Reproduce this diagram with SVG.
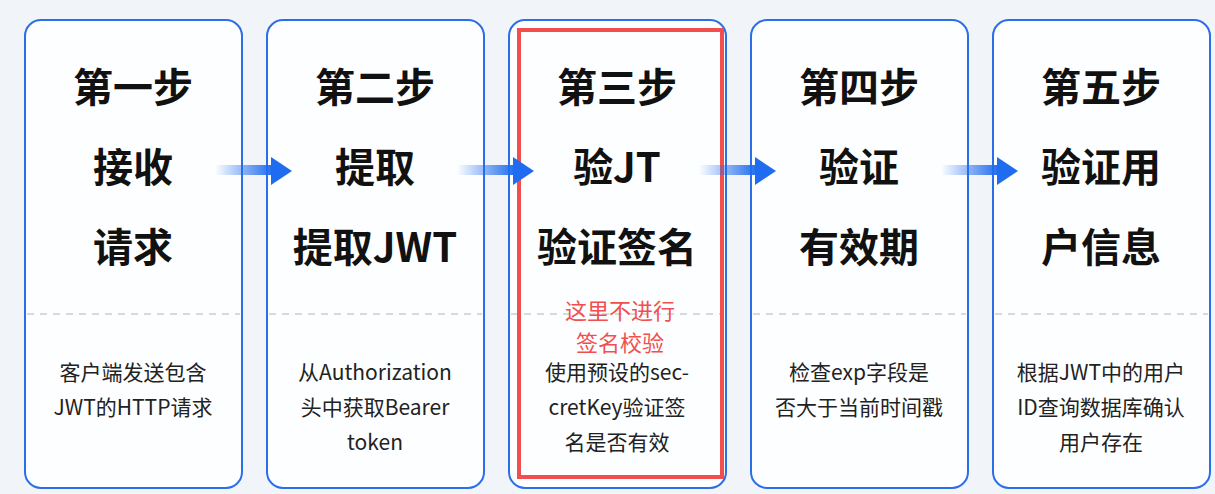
<svg xmlns="http://www.w3.org/2000/svg" width="1215" height="494" viewBox="0 0 1215 494">
<style>
.box{fill:#fdfeff;stroke:#2a6ee8;stroke-width:2}
.dash{stroke:#c9ced6;stroke-width:1.5;stroke-dasharray:7 6}
.t{font-family:"Noto Sans CJK SC","Liberation Sans",sans-serif;font-weight:700;font-size:40px;fill:#111;text-anchor:middle}
.d{font-family:"Noto Sans CJK SC","Liberation Sans",sans-serif;font-size:21px;fill:#222;text-anchor:middle}
.r{font-family:"Noto Sans CJK SC","Liberation Sans",sans-serif;font-size:22px;fill:#f24e4e;text-anchor:middle}
</style>
<defs>
<linearGradient id="g" x1="0" x2="1" y1="0" y2="0"><stop offset="0" stop-color="#1f6cf0" stop-opacity="0"/><stop offset="1" stop-color="#1f6cf0"/></linearGradient>
</defs>
<rect width="1215" height="494" fill="#f1f4f8"/>
<g id="step1"><rect class="box" x="25" y="20" width="217" height="468" rx="16"/><line class="dash" x1="27" y1="314" x2="240" y2="314"/>
<text class="t" x="133" y="102">第一步</text><text class="t" x="133" y="182">接收</text><text class="t" x="133" y="262">请求</text>
<text class="d" x="133" y="380">客户端发送包含</text><text class="d" x="133" y="415">JWT的HTTP请求</text></g>
<g id="step2"><rect class="box" x="267" y="20" width="217" height="468" rx="16"/><line class="dash" x1="269" y1="314" x2="482" y2="314"/>
<text class="t" x="375" y="102">第二步</text><text class="t" x="375" y="182">提取</text><text class="t" x="375" y="262">提取JWT</text>
<text class="d" x="375" y="380">从Authorization</text><text class="d" x="375" y="415">头中获取Bearer</text><text class="d" x="375" y="450">token</text></g>
<g id="step3"><rect class="box" x="509" y="20" width="217" height="468" rx="16"/><line class="dash" x1="511" y1="314" x2="724" y2="314"/>
<rect x="519" y="30" width="203" height="447" fill="none" stroke="#f24e4e" stroke-width="4"/>
<text class="t" x="617" y="102">第三步</text><text class="t" x="617" y="182">验JT</text><text class="t" x="617" y="262">验证签名</text>
<text class="r" x="620" y="319">这里不进行</text><text class="r" x="620" y="351">签名校验</text>
<text class="d" x="617" y="380">使用预设的sec-</text><text class="d" x="617" y="415">cretKey验证签</text><text class="d" x="617" y="450">名是否有效</text></g>
<g id="step4"><rect class="box" x="751" y="20" width="217" height="468" rx="16"/><line class="dash" x1="753" y1="314" x2="966" y2="314"/>
<text class="t" x="859" y="102">第四步</text><text class="t" x="859" y="182">验证</text><text class="t" x="859" y="262">有效期</text>
<text class="d" x="859" y="380">检查exp字段是</text><text class="d" x="859" y="415">否大于当前时间戳</text></g>
<g id="step5"><rect class="box" x="993" y="20" width="217" height="468" rx="16"/><line class="dash" x1="995" y1="314" x2="1208" y2="314"/>
<text class="t" x="1101" y="102">第五步</text><text class="t" x="1101" y="182">验证用</text><text class="t" x="1101" y="262">户信息</text>
<text class="d" x="1101" y="380">根据JWT中的用户</text><text class="d" x="1101" y="415">ID查询数据库确认</text><text class="d" x="1101" y="450">用户存在</text></g>
<g id="connectors">
<rect x="215" y="165" width="58" height="10" fill="url(#g)"/><polygon points="271,157 292,171 271,185" fill="#1f6cf0"/>
<rect x="457" y="165" width="58" height="10" fill="url(#g)"/><polygon points="513,157 534,171 513,185" fill="#1f6cf0"/>
<rect x="699" y="165" width="58" height="10" fill="url(#g)"/><polygon points="755,157 776,171 755,185" fill="#1f6cf0"/>
<rect x="941" y="165" width="58" height="10" fill="url(#g)"/><polygon points="997,157 1018,171 997,185" fill="#1f6cf0"/>
</g>
</svg>
